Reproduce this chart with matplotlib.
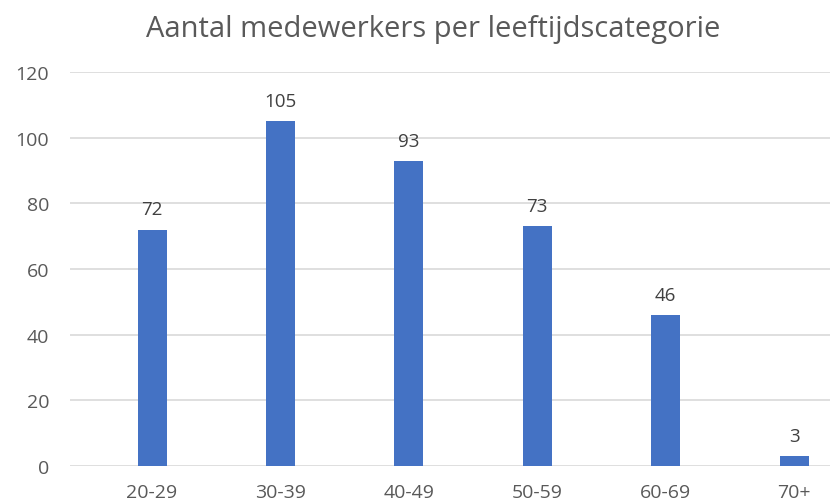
import matplotlib.pyplot as plt
import numpy as np

plt.rcParams['font.family'] = ['Open Sans', 'DejaVu Sans']

categories = ['20-29', '30-39', '40-49', '50-59', '60-69', '70+']
counts = [72, 105, 93, 73, 46, 3]

fig = plt.figure(figsize=(8.3, 5.02), dpi=100)
ax = fig.add_axes([0.0843, 0.0697, 0.9157, 0.7849])

x = np.arange(len(categories))
bars = ax.bar(x, counts, width=0.226, color='#4472C4', zorder=3)
ax.bar_label(bars, padding=8, fontsize=13.5, color='#404040')

ax.set_xlim(-0.639, 5.28)
ax.set_ylim(0, 120)
ax.set_yticks(np.arange(0, 121, 20))
ax.set_xticks(x)
ax.set_xticklabels(categories)
ax.tick_params(axis='both', length=0, labelsize=14, labelcolor='#595959')
ax.tick_params(axis='x', pad=12)
ax.tick_params(axis='y', pad=15)
ax.grid(axis='y', color='#d9d9d9', linewidth=1.2, zorder=0)
for s in ax.spines.values():
    s.set_visible(False)

fig.text(0.522, 0.942, 'Aantal medewerkers per leeftijdscategorie', ha='center', va='center',
         fontsize=21, color='#595959')

fig.savefig('out.png', dpi=100)
